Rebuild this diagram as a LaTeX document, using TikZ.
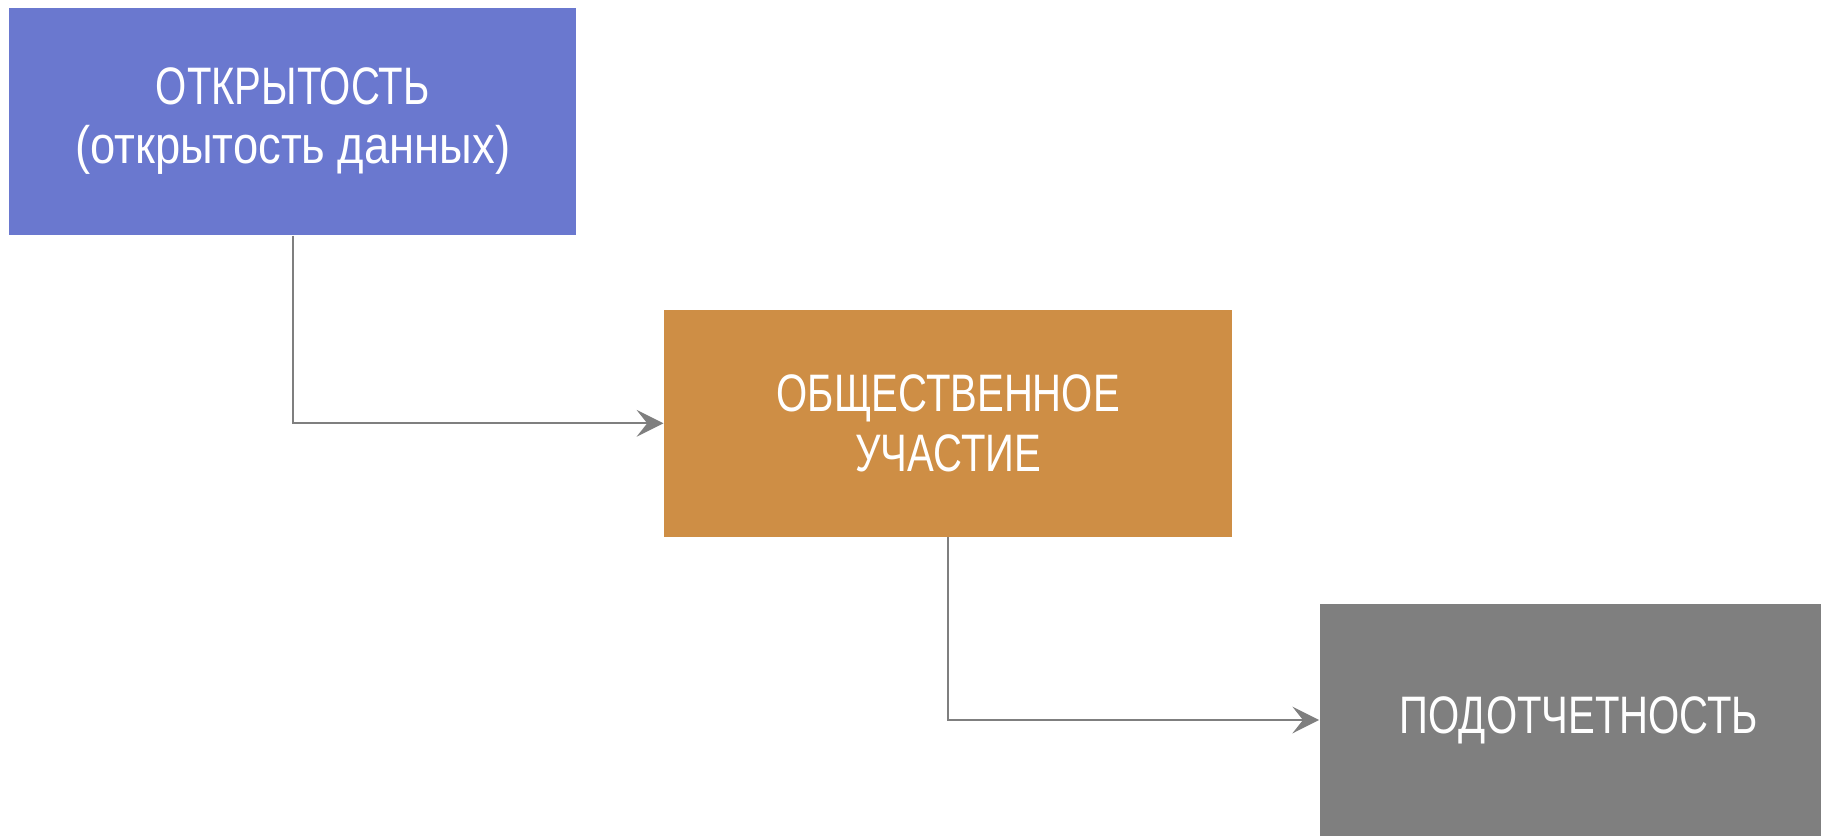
\documentclass[tikz,border=0pt]{standalone}
\usepackage{fontspec}
\setmainfont{Liberation Sans}[FakeStretch=0.76]
\newfontfamily\widefont{Liberation Sans}[FakeStretch=0.86]
\usetikzlibrary{arrows.meta}
\definecolor{openblue}{HTML}{6A78CF}
\definecolor{partorange}{HTML}{CE8E45}
\definecolor{accgray}{HTML}{7F7F7F}

\begin{document}
\begin{tikzpicture}[x=0.01cm,y=-0.01cm]
  \tikzstyle{box}=[rectangle,inner sep=0pt,text=white,align=center,font=\fontsize{15}{16.8}\selectfont]
  \tikzstyle{link}=[draw=accgray,line width=0.6pt,-{Stealth[length=7.6pt,width=7.6pt,inset=3pt]}]
  \useasboundingbox (0,0) rectangle (1821,836);

  \node[box,fill=openblue,minimum width=5.667cm,minimum height=2.265cm] (open) at (292.6,121.5) {ОТКРЫТОСТЬ\\{\widefont (открытость данных)}};
  \node[box,fill=partorange,minimum width=5.679cm,minimum height=2.266cm] (part) at (948.2,423.3) {ОБЩЕСТВЕННОЕ\\УЧАСТИЕ};
  \node[box,fill=accgray,minimum width=5.18cm,minimum height=2.32cm] (acc) at (1579,720) {ПОДОТЧЕТНОСТЬ};

  \draw[link] (open.south) |- (part.west);
  \draw[link] (part.south) |- (acc.west);
\end{tikzpicture}
\end{document}
